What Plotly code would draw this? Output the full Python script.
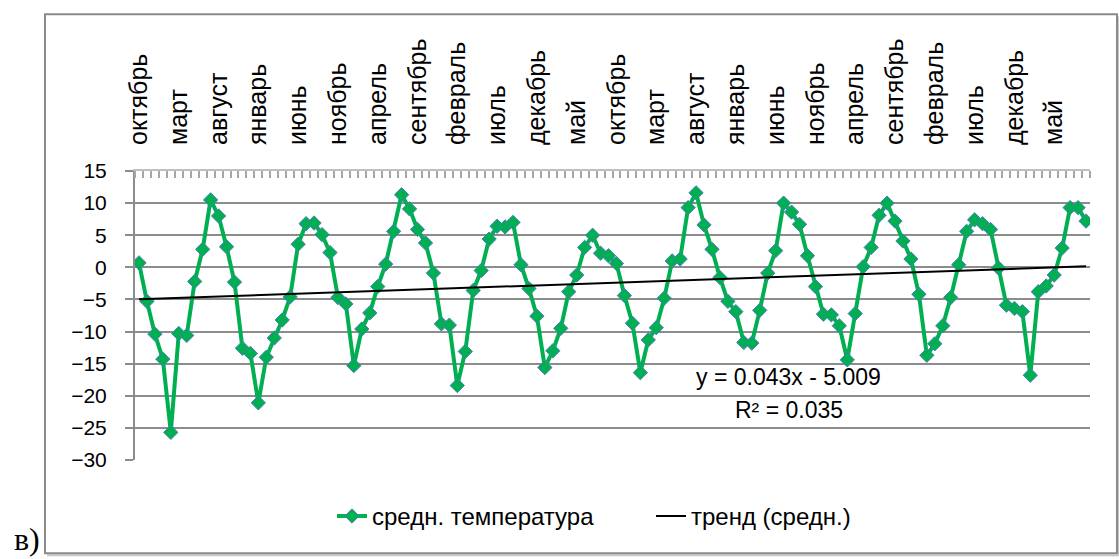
import plotly.graph_objects as go

# Month names (series starts in October)
month_names = ["октябрь", "ноябрь", "декабрь", "январь", "февраль", "март",
               "апрель", "май", "июнь", "июль", "август", "сентябрь"]

# Mean monthly temperature, °C
temperature = [
    0.7, -5.3, -10.4, -14.3, -25.7, -10.3, -10.6, -2.2, 2.8, 10.5, 8.0, 3.2,
    -2.3, -12.6, -13.4, -21.1, -14.0, -11.0, -8.2, -4.6, 3.6, 6.8, 6.9, 5.1,
    2.3, -4.7, -5.7, -15.3, -9.6, -7.1, -3.0, 0.5, 5.6, 11.3, 9.1, 5.9,
    3.8, -0.9, -8.8, -9.0, -18.4, -13.1, -3.6, -0.5, 4.4, 6.4, 6.3, 7.0,
    0.4, -3.3, -7.6, -15.6, -13.0, -9.5, -3.8, -1.2, 3.1, 5.0, 2.2, 1.8,
    0.6, -4.4, -8.7, -16.4, -11.3, -9.4, -4.8, 1.0, 1.3, 9.3, 11.6, 6.6,
    2.8, -1.6, -5.3, -6.9, -11.7, -11.8, -6.7, -0.9, 2.6, 10.0, 8.6, 6.7,
    1.8, -3.0, -7.3, -7.4, -9.1, -14.4, -7.2, 0.1, 3.1, 8.1, 10.0, 7.2,
    4.1, 1.3, -4.2, -13.7, -11.9, -9.1, -4.7, 0.4, 5.6, 7.4, 6.8, 5.9,
    -0.1, -5.9, -6.4, -6.9, -16.8, -3.8, -2.9, -1.2, 3.0, 9.3, 9.3, 7.2,
]

# Linear trend parameters (y = slope*x + intercept) and its R²
trend_slope = 0.043
trend_intercept = -5.009
trend_r2 = 0.035

# Y-axis ticks
y_ticks = [15, 10, 5, 0, -5, -10, -15, -20, -25, -30]

n = len(temperature)
x_idx = list(range(1, n + 1))
categories = [month_names[i % 12] for i in range(n)]
label_step = 5
label_pos = x_idx[::label_step]
label_text = categories[::label_step]

trend_x = [x_idx[0], x_idx[-1]]
trend_y = [trend_slope * v + trend_intercept for v in trend_x]

# Plot-area geometry (pixels)
W, H = 1119, 559
L, R, T, B = 135, 1090, 171, 460.5


def px(xp):
    return (xp - L) / (R - L)


def py(yp):
    return (B - yp) / (B - T)


fig = go.Figure()

fig.add_trace(go.Scatter(
    x=x_idx, y=temperature, mode="lines+markers",
    name="средн. температура", legend="legend",
    line=dict(color="#00B050", width=4),
    marker=dict(symbol="diamond", size=11, color="#00B050",
                line=dict(color="#4A7EBB", width=1)),
))

fig.add_trace(go.Scatter(
    x=trend_x, y=trend_y, mode="lines",
    name="тренд (средн.)", legend="legend2",
    line=dict(color="black", width=2),
))

font_sans = "Liberation Sans, Arial, sans-serif"
legend_font = dict(size=24, family=font_sans)

fig.update_layout(
    width=W, height=H,
    margin=dict(l=L, r=W - R, t=T, b=H - B),
    paper_bgcolor="white", plot_bgcolor="white",
    font=dict(family=font_sans, color="black"),
    showlegend=True,
    legend=dict(
        orientation="h",
        x=px(332), xanchor="left",
        y=py(517), yanchor="middle",
        font=legend_font, bgcolor="rgba(0,0,0,0)",
    ),
    legend2=dict(
        orientation="h",
        x=px(651), xanchor="left",
        y=py(517), yanchor="middle",
        font=legend_font, bgcolor="rgba(0,0,0,0)",
    ),
    xaxis=dict(
        range=[0.5, n + 0.5],
        side="top",
        tickmode="array", tickvals=label_pos, ticktext=label_text,
        tickangle=-90,
        tickfont=dict(size=25, family=font_sans),
        ticks="",
        ticklabelstandoff=19,
        showgrid=False, zeroline=False,
        showline=True, linecolor="#BFBFBF", linewidth=2,
        minor=dict(tickmode="linear", tick0=0.5, dtick=1, ticks="inside",
                   ticklen=7, tickcolor="#A6A6A6", tickwidth=1.5,
                   showgrid=False),
    ),
    yaxis=dict(
        range=[-30, 15],
        tickmode="array", tickvals=y_ticks,
        tickfont=dict(size=21, family=font_sans),
        ticks="outside", ticklen=8, tickcolor="#8C8C8C", tickwidth=2,
        ticklabelstandoff=14,
        showgrid=True, gridcolor="#8C8C8C", gridwidth=2,
        zeroline=False,
        showline=True, linecolor="#8C8C8C", linewidth=2,
    ),
)

# Trend equation and R²
eq_text = f"y = {trend_slope:.3f}x - {abs(trend_intercept):.3f}"
r2_text = f"R² = {trend_r2:.3f}"
fig.add_annotation(text=eq_text, xref="paper", yref="paper",
                   x=px(788), y=py(377), xanchor="center", yanchor="middle",
                   showarrow=False, font=dict(size=23, family=font_sans))
fig.add_annotation(text=r2_text, xref="paper", yref="paper",
                   x=px(789), y=py(410), xanchor="center", yanchor="middle",
                   showarrow=False, font=dict(size=23, family=font_sans))

# Panel letter
fig.add_annotation(text="в)", xref="paper", yref="paper",
                   x=px(27), y=py(540), xanchor="center", yanchor="middle",
                   showarrow=False,
                   font=dict(size=32, family="Liberation Serif, DejaVu Serif, serif"))

# Chart frame with a soft shadow on the right and bottom
fig.add_shape(type="line", xref="paper", yref="paper",
              x0=px(47), y0=py(556), x1=px(1119), y1=py(556),
              line=dict(color="#C8C8C8", width=2), layer="below")
fig.add_shape(type="line", xref="paper", yref="paper",
              x0=px(1119), y0=py(16), x1=px(1119), y1=py(556),
              line=dict(color="#C8C8C8", width=2), layer="below")
fig.add_shape(type="rect", xref="paper", yref="paper",
              x0=px(45), y0=py(554), x1=px(1117), y1=py(14),
              line=dict(color="#8A8A8A", width=2), fillcolor="rgba(0,0,0,0)",
              layer="below")

fig.write_html("out.html")
